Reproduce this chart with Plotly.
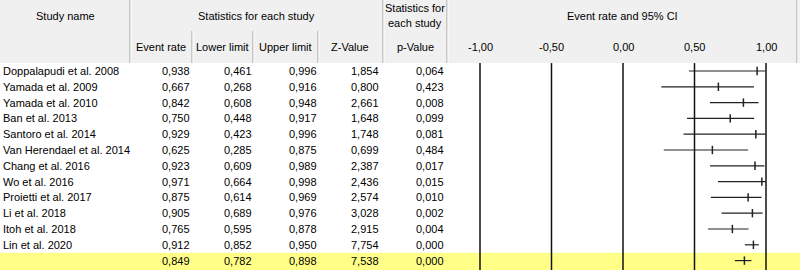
import plotly.graph_objects as go

studies = ["Doppalapudi et al. 2008", "Yamada et al. 2009", "Yamada et al. 2010", "Ban et al. 2013",
           "Santoro et al. 2014", "Van Herendael et al. 2014", "Chang et al. 2016", "Wo et al. 2016",
           "Proietti et al. 2017", "Li et al. 2018", "Itoh et al. 2018", "Lin et al. 2020", ""]
event_rate = [0.938, 0.667, 0.842, 0.750, 0.929, 0.625, 0.923, 0.971, 0.875, 0.905, 0.765, 0.912, 0.849]
lower_limit = [0.461, 0.268, 0.608, 0.448, 0.423, 0.285, 0.609, 0.664, 0.614, 0.689, 0.595, 0.852, 0.782]
upper_limit = [0.996, 0.916, 0.948, 0.917, 0.996, 0.875, 0.989, 0.998, 0.969, 0.976, 0.878, 0.950, 0.898]
z_value = [1.854, 0.800, 2.661, 1.648, 1.748, 0.699, 2.387, 2.436, 2.574, 3.028, 2.915, 7.754, 7.538]
p_value = [0.064, 0.423, 0.008, 0.099, 0.081, 0.484, 0.017, 0.015, 0.010, 0.002, 0.004, 0.000, 0.000]
tick_vals = [-1.0, -0.5, 0.0, 0.5, 1.0]
tick_labels = ["-1,00", "-0,50", "0,00", "0,50", "1,00"]
col_headers = ["Event rate", "Lower limit", "Upper limit", "Z-Value", "p-Value"]

W, H = 800, 270
FONT = "Liberation Sans"
FS = 11
ROW0, ROWH = 71.0, 15.8
rows = list(range(len(studies)))


def py(p):  # pixel y -> paper y
    return 1 - p / H


def px(p):
    return p / W


y_top = -ROW0 / ROWH
y_bot = (H - ROW0) / ROWH
HDR = 63

fig = go.Figure()

# CI lines
xs, ys = [], []
for i in rows:
    xs += [lower_limit[i], upper_limit[i], None]
    ys += [i, i, None]
fig.add_trace(go.Scatter(x=xs, y=ys, mode="lines", line=dict(color="#222222", width=1.2),
                         hoverinfo="skip", showlegend=False))
fig.add_trace(go.Scatter(x=event_rate, y=rows, mode="markers",
                         marker=dict(symbol="line-ns", size=6, line=dict(color="#222222", width=1.5)),
                         showlegend=False))

shapes = []
# header background
shapes.append(dict(type="rect", xref="paper", yref="paper", x0=0, x1=1, y0=py(HDR), y1=1,
                   fillcolor="#F0F0F0", line=dict(width=0), layer="below"))
# summary highlight
shapes.append(dict(type="rect", xref="paper", yref="y", x0=0, x1=1, y0=len(rows) - 1.5, y1=y_bot,
                   fillcolor="#FFFF88", line=dict(width=0), layer="below"))
# header dividers (full height of header)
for xp in [130, 383, 447, 797]:
    shapes.append(dict(type="line", xref="paper", yref="paper", x0=px(xp), x1=px(xp), y0=py(HDR), y1=1,
                       line=dict(color="#A0A0A0", width=1)))
    shapes.append(dict(type="line", xref="paper", yref="paper", x0=px(xp + 1), x1=px(xp + 1), y0=py(HDR), y1=1,
                       line=dict(color="#FFFFFF", width=1)))
# sub-column dividers
for xp in [192, 253, 318]:
    shapes.append(dict(type="line", xref="paper", yref="paper", x0=px(xp), x1=px(xp), y0=py(HDR), y1=py(31),
                       line=dict(color="#A0A0A0", width=1)))
    shapes.append(dict(type="line", xref="paper", yref="paper", x0=px(xp + 1), x1=px(xp + 1), y0=py(HDR), y1=py(31),
                       line=dict(color="#FFFFFF", width=1)))
# vertical reference lines at ticks
for tv in tick_vals:
    shapes.append(dict(type="line", xref="x", yref="y", x0=tv, x1=tv, y0=-0.5, y1=y_bot,
                       line=dict(color="#111111", width=1.5)))

ann = []


def text(x, y, s, anchor="center", xref="paper", yref="paper"):
    ann.append(dict(x=x, y=y, xref=xref, yref=yref, text=s, showarrow=False, xanchor=anchor,
                    yanchor="middle", font=dict(family=FONT, size=FS, color="#000000")))


text(px(65), py(16), "Study name")
text(px(256), py(16), "Statistics for each study")
text(px(415), py(8), "Statistics for")
text(px(415), py(23), "each study")
text(px(622), py(16), "Event rate and 95% CI")
col_centers = [161, 222, 285, 350, 415]
for c, h in zip(col_centers, col_headers):
    text(px(c), py(47), h)
for tv, tl in zip(tick_vals, tick_labels):
    text(tv, py(47), tl, xref="x")

col_right = [192, 254, 319, 381, 446]


def fmt(v):
    return f"{v:.3f}".replace(".", ",")


for i in rows:
    if studies[i]:
        text(px(1), i, studies[i], anchor="left", yref="y")
    for cr, arr in zip(col_right, [event_rate, lower_limit, upper_limit, z_value, p_value]):
        text(px(cr), i, fmt(arr[i]), anchor="right", yref="y")

scale = 143.0  # pixels per unit
x0_val = (447 - 623) / scale
x1_val = (797 - 623) / scale

fig.update_layout(
    width=W, height=H, margin=dict(l=0, r=0, t=0, b=0),
    paper_bgcolor="#FFFFFF", plot_bgcolor="rgba(0,0,0,0)",
    xaxis=dict(domain=[447 / W, 797 / W], range=[x0_val, x1_val], visible=False, fixedrange=True),
    yaxis=dict(domain=[0, 1], range=[y_bot, y_top], visible=False, fixedrange=True),
    shapes=shapes, annotations=ann, showlegend=False,
)

fig.write_html("out.html")
